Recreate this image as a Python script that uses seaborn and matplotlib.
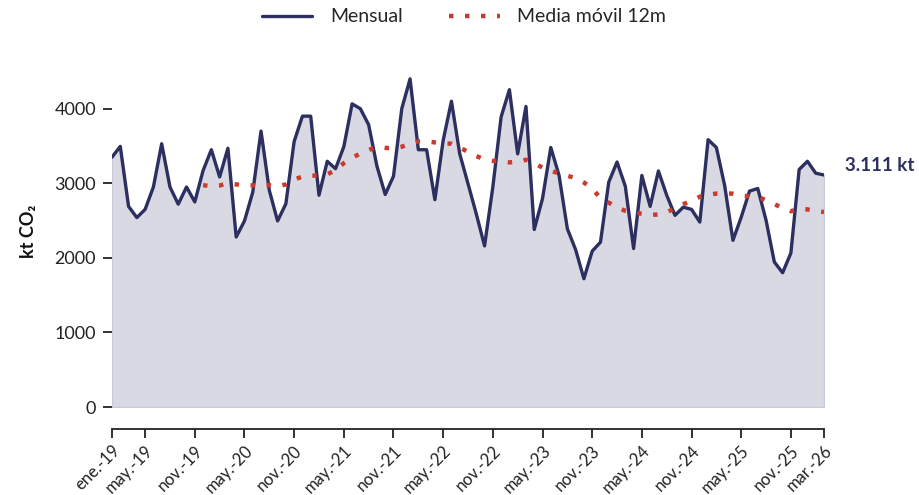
import numpy as np
import pandas as pd
import matplotlib
matplotlib.use("Agg")
import matplotlib.pyplot as plt
import seaborn as sns

# ---- data ----
tick_pos = [0, 4, 10, 16, 22, 28, 34, 40, 46, 52, 58, 64, 70, 76, 82, 86]
tick_labels = ["ene.-19", "may.-19", "nov.-19", "may.-20", "nov.-20", "may.-21",
               "nov.-21", "may.-22", "nov.-22", "may.-23", "nov.-23", "may.-24",
               "nov.-24", "may.-25", "nov.-25", "mar.-26"]

mensual = [3350, 3495, 2690, 2540, 2650, 2950, 3530, 2950, 2720, 2950,
           2750, 3170, 3450, 3085, 3470, 2280, 2495, 2880, 3700, 2905,
           2495, 2725, 3560, 3900, 3900, 2840, 3295, 3195, 3490, 4065,
           4000, 3785, 3230, 2850, 3095, 4000, 4400, 3450, 3450, 2780,
           3575, 4100, 3395, 2995, 2590, 2160, 2950, 3890, 4255, 3395,
           4030, 2380, 2795, 3480, 3105, 2390, 2110, 1720, 2090, 2210,
           3015, 3285, 2960, 2125, 3105, 2690, 3165, 2840, 2570, 2680,
           2650, 2480, 3585, 3480, 2970, 2235, 2545, 2895, 2930, 2505,
           1945, 1800, 2065, 3185, 3295, 3135, 3111]

media_movil = [2975, 2960, 2970, 3000, 2985, 2975, 2972, 2978, 2975, 2960,
               2985, 3050, 3090, 3105, 3100, 3120, 3175, 3270, 3340, 3400,
               3445, 3490, 3475, 3470, 3490, 3530, 3562, 3562, 3548, 3536,
               3530, 3480, 3420, 3365, 3320, 3300, 3295, 3280, 3290, 3315,
               3270, 3210, 3170, 3130, 3100, 3070, 3010, 2930, 2800, 2740,
               2680, 2630, 2610, 2590, 2575, 2582, 2610, 2665, 2720, 2765,
               2820, 2845, 2862, 2868, 2860, 2835, 2825, 2815, 2775, 2720,
               2670, 2625, 2660, 2650, 2625, 2615]

ultimo_label = "3.111 kt"

# ---- frame ----
n = len(mensual)
df = pd.DataFrame({"idx": np.arange(n), "mensual": mensual})
ma_start = n - len(media_movil)
df["ma"] = [np.nan] * ma_start + media_movil

sns.set_theme(style="white")
plt.rcParams["font.family"] = ["Lato", "DejaVu Sans"]

NAVY = "#2C2F5F"
RED = "#CC3A2E"
FILL = "#D8D9E2"
TXT = "#222222"

fig = plt.figure(figsize=(9.19, 4.95), dpi=100)
ax = fig.add_axes([112 / 919, 1 - 407 / 495, (824 - 112) / 919, (407 - 56.5) / 495])

ax.fill_between(df["idx"], 0, df["mensual"], color=FILL, edgecolor="#C9CAD8",
                linewidth=1.0, zorder=1)
sns.lineplot(data=df, x="idx", y="mensual", ax=ax, color=NAVY, linewidth=2.4,
             label="Mensual", zorder=3)
sns.lineplot(data=df, x="idx", y="ma", ax=ax, color=RED, linewidth=3.2,
             label="Media móvil 12m", zorder=4)
ma_line = ax.lines[-1]
ma_line.set_dashes((1.0, 2.6))
ma_line.set_dash_capstyle("butt")

# spines first (set_position resets ticks)
for s in ["top", "right", "left"]:
    ax.spines[s].set_visible(False)
ax.spines["bottom"].set_position(("outward", 16))
ax.spines["bottom"].set_color(TXT)
ax.spines["bottom"].set_linewidth(1.3)

ax.set_xlim(0, n - 1)
ax.set_ylim(0, 4700)
ax.spines["bottom"].set_bounds(0, n - 1)
ax.set_yticks([0, 1000, 2000, 3000, 4000])
ax.set_yticklabels(["0", "1000", "2000", "3000", "4000"])
ax.set_xticks(tick_pos)
ax.set_xticklabels(tick_labels, rotation=45, ha="right", va="top",
                   rotation_mode="anchor")

ax.tick_params(axis="y", left=True, length=6.5, width=1.3, color=TXT,
               labelsize=13, labelcolor=TXT, pad=5)
ax.tick_params(axis="x", bottom=True, length=6.5, width=1.3, color=TXT,
               labelsize=12, labelcolor=TXT, pad=3, labelrotation=45)
for lab in ax.get_xticklabels():
    lab.set_ha("right")
    lab.set_va("top")
    lab.set_rotation_mode("anchor")

ax.set_xlabel("")
ax.set_ylabel("kt CO₂", fontsize=13, fontweight="bold", color="#111111")
ax.yaxis.set_label_coords(-0.105, 0.5)

ax.text(n - 1 + 2.5, mensual[-1] + 130, ultimo_label, color=NAVY, fontsize=13.5,
        fontweight="bold", ha="left", va="center", clip_on=False)

handles, labels = ax.get_legend_handles_labels()
if ax.legend_:
    ax.legend_.remove()
fig.legend(handles, labels, loc="center", bbox_to_anchor=(0.505, 0.966), ncol=2,
           frameon=False, fontsize=14, handlelength=2.6, handletextpad=0.9,
           columnspacing=2.4)

fig.savefig("out.png", dpi=100)
